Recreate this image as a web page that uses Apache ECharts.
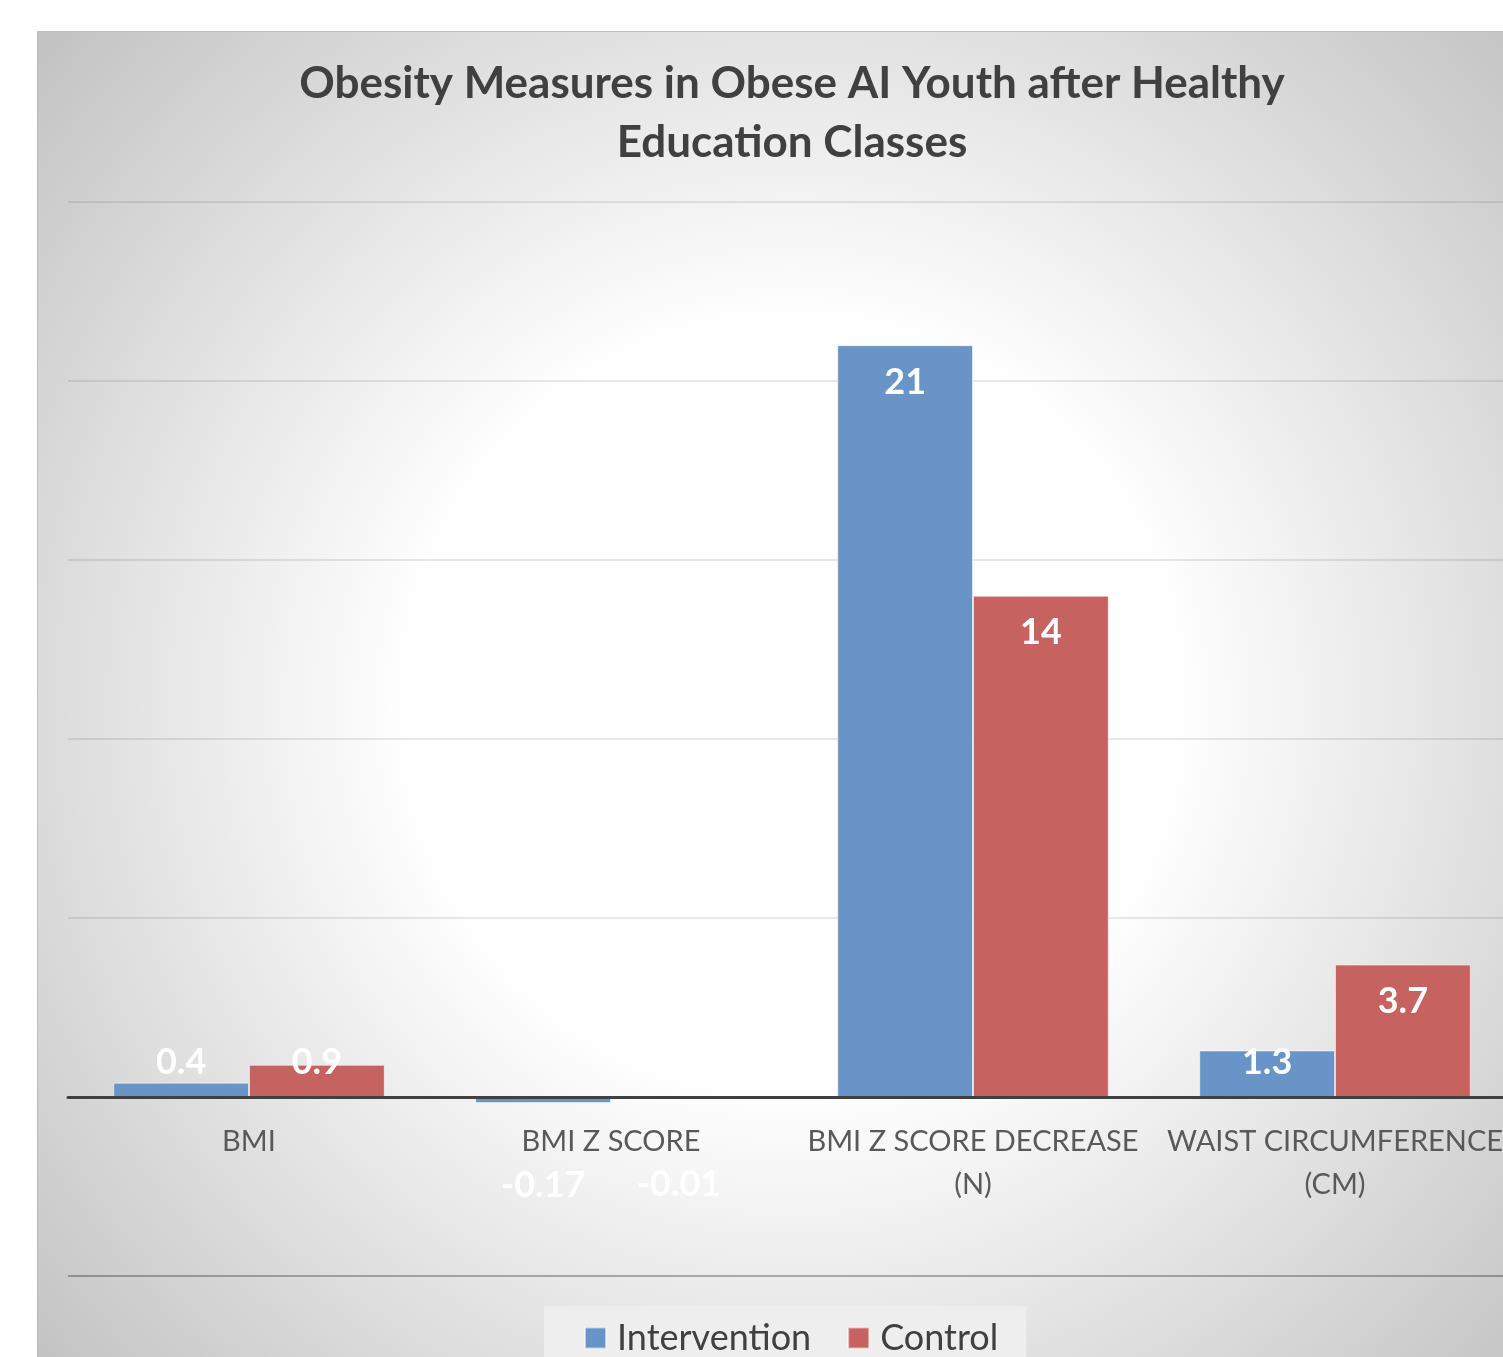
<!DOCTYPE html>
<html>
<head>
<meta charset="utf-8">
<script src="https://cdn.jsdelivr.net/npm/echarts@6/dist/echarts.min.js"></script>
<style>
  html, body { margin: 0; padding: 0; background: #ffffff; }
  #chart { width: 1503px; height: 1357px; }
</style>
</head>
<body>
<div id="chart"></div>
<script>
// Chart data
const categories = ['BMI', 'BMI Z SCORE', 'BMI Z SCORE DECREASE\n(N)', 'WAIST CIRCUMFERENCE\n(CM)'];
const seriesNames = ['Intervention', 'Control'];
const interventionValues = [0.4, -0.17, 21, 1.3];
const controlValues = [0.9, -0.01, 14, 3.7];
const valueAxisMin = -5;
const valueAxisMax = 25;
const valueAxisStep = 5;

const FONT = 'Lato, "Open Sans", "DejaVu Sans", sans-serif';
const BLUE = '#6894c7';
const RED = '#c6625f';

// Plot area
const GRID = { left: 68, top: 202, width: 1448, height: 1074 };
// distance from the bottom of the plot to the zero line, so the category
// names sit right under the zero axis
const zeroFromBottom = GRID.height * (0 - valueAxisMin) / (valueAxisMax - valueAxisMin);

// Value labels sit inside the bar top; short bars keep them just above the axis,
// negative bars put them below the category names (measured from the zero line).
function valueLabel(v) {
  if (v < 0) return { position: 'insideTop', distance: 71 };
  if (v < 2) return { position: 'insideBottom', distance: 18 };
  return { position: 'insideTop', distance: 20 };
}
function toData(values) {
  return values.map(v => ({ value: v, label: valueLabel(v) }));
}

const chart = echarts.init(document.getElementById('chart'), null, { renderer: 'canvas' });

const panelFill = new echarts.graphic.RadialGradient(792, 705, 1000, [
  { offset: 0, color: '#ffffff' },
  { offset: 0.38, color: '#ffffff' },
  { offset: 0.69, color: '#e1e1e1' },
  { offset: 1, color: '#c3c3c3' }
], true);

const barLabel = {
  show: true,
  color: '#ffffff',
  fontFamily: FONT,
  fontWeight: 'bold',
  fontSize: 36,
  lineHeight: 34,
  formatter: '{c}'
};

chart.setOption({
  backgroundColor: '#ffffff',
  animation: false,
  graphic: [{
    type: 'rect',
    z: -10,
    silent: true,
    shape: { x: 37.5, y: 31.5, width: 1520, height: 1400 },
    style: { fill: panelFill, stroke: '#bdbdbd', lineWidth: 1 }
  }],
  title: {
    text: 'Obesity Measures in Obese AI Youth after Healthy\nEducation Classes',
    left: 792,
    top: 54,
    textAlign: 'center',
    padding: 0,
    textStyle: {
      fontFamily: FONT,
      fontWeight: 'bold',
      fontSize: 44,
      lineHeight: 59,
      color: '#404040'
    }
  },
  legend: {
    data: seriesNames,
    left: 544,
    top: 1306,
    padding: [14, 28, 20, 40],
    backgroundColor: '#eeeeee',
    icon: 'rect',
    itemWidth: 21,
    itemHeight: 21,
    itemGap: 36,
    textStyle: {
      fontFamily: FONT,
      fontSize: 36,
      lineHeight: 36,
      color: '#404040',
      padding: [0, 0, 0, 6]
    }
  },
  grid: Object.assign({ containLabel: false, outerBoundsMode: 'none' }, GRID),
  xAxis: [
    {
      // zero line
      type: 'category',
      data: categories,
      z: 3,
      axisLine: { show: true, onZero: true, lineStyle: { color: '#404040', width: 3 } },
      axisTick: { show: false },
      axisLabel: { show: false },
      splitLine: { show: false }
    },
    {
      // category names under the zero line
      type: 'category',
      data: categories,
      position: 'bottom',
      offset: -zeroFromBottom,
      axisLine: { show: false },
      axisTick: { show: false },
      axisLabel: {
        interval: 0,
        margin: 23,
        fontFamily: FONT,
        fontSize: 29,
        lineHeight: 43,
        color: '#595959'
      },
      splitLine: { show: false }
    }
  ],
  yAxis: {
    type: 'value',
    min: valueAxisMin,
    max: valueAxisMax,
    interval: valueAxisStep,
    axisLabel: { show: false },
    axisLine: { show: false },
    axisTick: { show: false },
    splitLine: {
      show: true,
      lineStyle: {
        color: ['rgba(0,0,0,0.38)', 'rgba(0,0,0,0.12)', 'rgba(0,0,0,0.12)', 'rgba(0,0,0,0.12)',
                'rgba(0,0,0,0.12)', 'rgba(0,0,0,0.12)', 'rgba(0,0,0,0.12)'],
        width: 1.5
      }
    }
  },
  series: [
    {
      name: seriesNames[0],
      type: 'bar',
      xAxisIndex: 0,
      data: toData(interventionValues),
      barGap: '0%',
      barCategoryGap: '25%',
      itemStyle: { color: BLUE, borderColor: 'rgba(255,255,255,0.55)', borderWidth: 1 },
      label: barLabel
    },
    {
      name: seriesNames[1],
      type: 'bar',
      xAxisIndex: 0,
      data: toData(controlValues),
      barGap: '0%',
      barCategoryGap: '25%',
      itemStyle: { color: RED, borderColor: 'rgba(255,255,255,0.55)', borderWidth: 1 },
      label: barLabel
    }
  ]
});
</script>
</body>
</html>
